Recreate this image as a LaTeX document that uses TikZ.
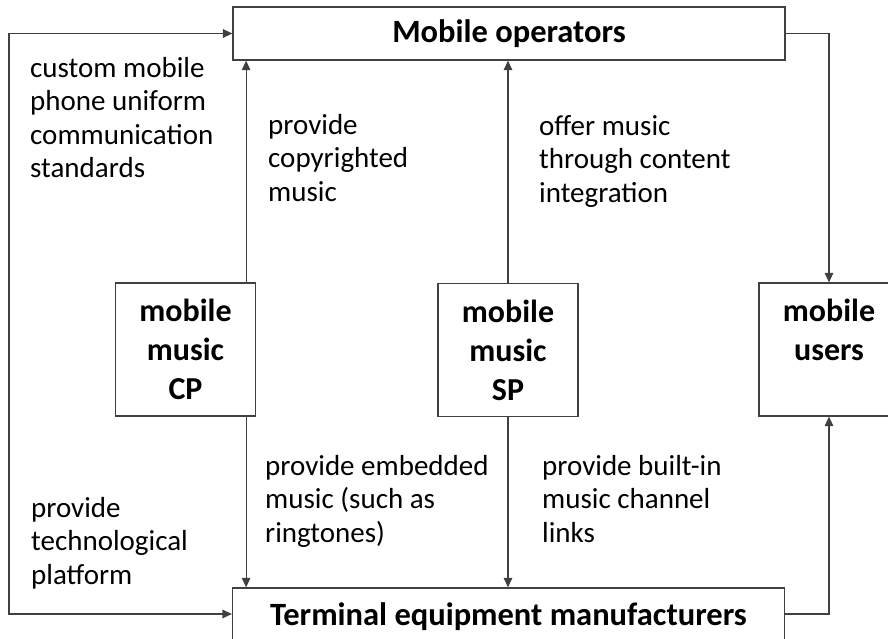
\documentclass[tikz,border=0pt]{standalone}
\usepackage{fontspec}
\setmainfont{Carlito}
\usetikzlibrary{arrows.meta,calc}
\begin{document}
\begin{tikzpicture}[x=1pt,y=-1pt,
  line/.style={draw=black!75, line width=1.2pt},
  tip/.tip={Triangle[length=9.5pt,width=8.5pt]},
  arr/.style={line, -tip},
  box/.style={line, fill=white, inner sep=0pt},
  widebox/.style={box, minimum width=552pt, minimum height=53pt,
    font=\fontsize{32.5}{39}\selectfont\bfseries},
  smallbox/.style={box, minimum width=140pt, minimum height=133pt,
    align=center, font=\fontsize{32}{39}\selectfont\bfseries},
  lbl/.style={anchor=north west, inner sep=0pt, align=left,
    font=\fontsize{29}{33.5}\selectfont}
]
\useasboundingbox (0,0) rectangle (888,639);

% boxes
\node[widebox] (ops) at (509,33.5) {Mobile operators};
\node[widebox, minimum height=58pt] (term) at (508.5,617) {Terminal equipment manufacturers};
\node[smallbox] (cp) at (185.5,349.5) {mobile\\music\\CP};
\node[smallbox] (sp) at (508,350) {mobile\\music\\SP};
\node[smallbox] (users) at (829,349.5) {mobile\\users\\\phantom{x}};

% connectors
\coordinate (cpt) at ($(cp.north east)+(-10,0)$);
\coordinate (cpb) at ($(cp.south east)+(-10,0)$);
\coordinate (termlink) at ($(term.west)+(0,-3)$);
\coordinate (termout) at ($(term.east)+(0,-3)$);
\draw[arr] (cpt) -- (cpt |- ops.south);
\draw[arr] (cpb) -- (cpb |- term.north);
\draw[arr] (sp.north) -- (sp.north |- ops.south);
\draw[arr] (sp.south) -- (sp.south |- term.north);
\draw[arr] (ops.east) -| (users.north);
\draw[arr] (termout) -| (users.south);
\coordinate (lft) at (9,0);
\draw[line, tip-tip] (ops.west) -| (lft |- termlink) -- (termlink);

% labels
\node[lbl] (l1) at (30,53.55) {\strut custom mobile\\phone uniform\\communication\\standards};
\node[lbl] (l2) at (268,110.55) {\strut provide\\copyrighted\\music};
\node[lbl] (l3) at (539,111.55) {\strut offer music\\through content\\integration};
\node[lbl] (l4) at (265,451.55) {\strut provide embedded\\music (such as\\ringtones)};
\node[lbl] (l5) at (542,451.55) {\strut provide built-in\\music channel\\links};
\node[lbl] (l6) at (31,493.55) {\strut provide\\technological\\platform};
\end{tikzpicture}
\end{document}
